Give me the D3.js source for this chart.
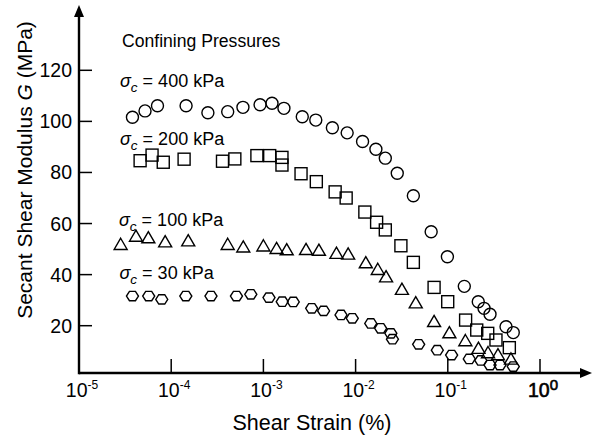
<!DOCTYPE html>
<html>
<head>
<meta charset="utf-8">
<script src="https://cdn.jsdelivr.net/npm/d3@7"></script>
<style>
  body { margin: 0; background: #fff; }
  svg { display: block; font-family: "Liberation Sans", Arial, sans-serif; }
</style>
</head>
<body>
<div id="chart"></div>
<script>
// DATA
// shear strain (%) and secant shear modulus G (MPa), per confining pressure
const strain400 = [3.8e-5, 5.2e-5, 7.1e-5, 1.45e-4, 2.5e-4, 4.1e-4, 6.0e-4, 9.2e-4, 1.24e-3, 1.67e-3, 2.64e-3, 3.7e-3, 5.6e-3, 8.1e-3, 1.19e-2, 1.66e-2, 2.1e-2, 2.83e-2, 4.23e-2, 6.6e-2, 0.099, 0.151, 0.214, 0.247, 0.287, 0.428, 0.513];
const g400 = [101.6, 104.1, 106.1, 106.1, 103.4, 103.8, 105.5, 106.5, 107.1, 105.1, 101.8, 100.5, 97.5, 95.5, 92.1, 89.1, 85.6, 79.7, 70.9, 56.8, 47.0, 35.4, 29.4, 26.8, 24.5, 19.6, 17.3];

const strain200 = [4.6e-5, 6.2e-5, 8.2e-5, 1.38e-4, 3.6e-4, 4.9e-4, 8.5e-4, 1.17e-3, 1.59e-3, 1.59e-3, 2.56e-3, 3.75e-3, 6.0e-3, 7.9e-3, 1.26e-2, 1.69e-2, 2.1e-2, 3.1e-2, 4.23e-2, 7.1e-2, 0.0998, 0.156, 0.206, 0.271, 0.333, 0.465];
const g200 = [84.6, 86.8, 84.0, 85.2, 84.4, 85.3, 86.6, 86.6, 85.9, 82.9, 79.5, 76.4, 72.4, 70.0, 64.5, 60.5, 57.5, 51.3, 44.8, 35.0, 29.4, 22.2, 18.3, 17.0, 14.4, 11.4];

const strain100 = [2.83e-5, 4.15e-5, 5.65e-5, 8.6e-5, 1.53e-4, 4.1e-4, 6.05e-4, 1.0e-3, 1.39e-3, 1.79e-3, 2.9e-3, 4.0e-3, 6.2e-3, 8.3e-3, 1.29e-2, 1.74e-2, 2.14e-2, 3.18e-2, 4.49e-2, 7.1e-2, 0.104, 0.155, 0.215, 0.273, 0.35, 0.484];
const g100 = [51.9, 55.1, 54.5, 52.9, 53.3, 51.9, 50.9, 51.3, 50.3, 49.8, 49.9, 49.6, 48.4, 48.1, 44.7, 42.1, 39.2, 34.3, 29.0, 21.7, 17.3, 14.2, 11.2, 9.5, 8.7, 7.0];

const strain30 = [3.8e-5, 5.7e-5, 7.9e-5, 1.44e-4, 2.7e-4, 5.1e-4, 7.3e-4, 1.15e-3, 1.6e-3, 2.11e-3, 3.34e-3, 4.5e-3, 6.95e-3, 9.2e-3, 1.46e-2, 1.87e-2, 2.41e-2, 2.51e-2, 4.83e-2, 7.7e-2, 0.110, 0.171, 0.228, 0.287, 0.368, 0.513];
const g30 = [31.6, 31.6, 30.3, 31.6, 31.6, 31.6, 32.3, 31.0, 29.4, 29.3, 26.8, 25.8, 24.2, 22.9, 20.9, 19.0, 17.0, 14.7, 12.7, 10.4, 8.5, 7.0, 6.4, 4.6, 4.6, 4.0];

// tick labels
const xTickExp = [-5, -4, -3, -2, -1, 0];
const yTicks = [20, 40, 60, 80, 100, 120];
const pressureLabels = ["400", "200", "100", "30"];

// CHART
const width = 592;
const height = 441;

const x = d3.scaleLog().domain([1e-5, 1]).range([79, 540]);
const y = d3.scaleLinear().domain([20, 120]).range([325.7, 70.3]);
const axisY = 373;

const svg = d3.select("#chart")
    .append("svg")
        .attr("width", width)
        .attr("height", height);

// axes lines
svg.append("line")
    .attr("x1", x(1e-5)).attr("x2", 585)
    .attr("y1", axisY).attr("y2", axisY)
    .attr("stroke", "#000").attr("stroke-width", 2.4);
svg.append("line")
    .attr("x1", x(1e-5)).attr("x2", x(1e-5))
    .attr("y1", axisY + 1.2).attr("y2", 14)
    .attr("stroke", "#000").attr("stroke-width", 2.4);

// arrow heads
svg.append("path")
    .attr("d", `M${x(1e-5)},5 L${x(1e-5) + 5},17 L${x(1e-5) - 5},17 Z`)
    .attr("fill", "#000");
svg.append("path")
    .attr("d", `M592,${axisY} L580,${axisY - 5} L580,${axisY + 5} Z`)
    .attr("fill", "#000");

// y ticks (inward)
svg.append("g")
    .selectAll("line")
    .data(yTicks)
    .join("line")
        .attr("x1", x(1e-5)).attr("x2", x(1e-5) + 13)
        .attr("y1", d => y(d)).attr("y2", d => y(d))
        .attr("stroke", "#000").attr("stroke-width", 1.5);

svg.append("g")
    .selectAll("text")
    .data(yTicks)
    .join("text")
        .attr("x", 72)
        .attr("y", d => y(d) + 7)
        .attr("text-anchor", "end")
        .attr("font-size", 19.5)
        .text(d => d);

// x ticks (inward, skip the origin)
svg.append("g")
    .selectAll("line")
    .data(xTickExp.filter(e => e > -5))
    .join("line")
        .attr("x1", e => x(Math.pow(10, e))).attr("x2", e => x(Math.pow(10, e)))
        .attr("y1", axisY).attr("y2", axisY - 14)
        .attr("stroke", "#000").attr("stroke-width", 1.5);

const xLabels = svg.append("g")
    .selectAll("text")
    .data(xTickExp)
    .join("text")
        .attr("x", e => x(Math.pow(10, e)) + 3)
        .attr("y", 397)
        .attr("text-anchor", "middle")
        .attr("font-size", 19.5)
        .attr("stroke", e => e === 0 ? "#000" : null)
        .attr("stroke-width", e => e === 0 ? 0.6 : null);
xLabels.append("tspan").text("10");
xLabels.append("tspan")
    .attr("dy", e => e === 0 ? -7 : -8)
    .attr("font-size", e => e === 0 ? 15 : 12)
    .text(e => e === 0 ? "0" : "-" + Math.abs(e));

// axis titles
svg.append("text")
    .attr("x", 312)
    .attr("y", 430)
    .attr("text-anchor", "middle")
    .attr("font-size", 21.5)
    .text("Shear Strain (%)");

const yTitle = svg.append("text")
    .attr("transform", "translate(32,170) rotate(-90)")
    .attr("text-anchor", "middle")
    .attr("font-size", 21);
yTitle.append("tspan").text("Secant Shear Modulus ");
yTitle.append("tspan").attr("font-style", "italic").text("G");
yTitle.append("tspan").text(" (MPa)");

// annotations
svg.append("text")
    .attr("x", 122)
    .attr("y", 47)
    .attr("font-size", 17.6)
    .text("Confining Pressures");

const labelPos = [[120, 87], [120, 145], [119, 226], [119.5, 279]];
labelPos.forEach(([lx, ly], i) => {
    const t = svg.append("text")
        .attr("x", lx)
        .attr("y", ly)
        .attr("font-size", 18);
    t.append("tspan").attr("font-style", "italic").text("σ");
    t.append("tspan").attr("font-style", "italic").attr("font-size", 13.5).attr("dy", 5).text("c");
    t.append("tspan").attr("dy", -5).text(" = " + pressureLabels[i] + " kPa");
});

// markers
const zip = (xs, ys) => xs.map((v, i) => [v, ys[i]]);
const mark = svg.append("g")
    .attr("fill", "none")
    .attr("stroke", "#000")
    .attr("stroke-width", 1.4);

mark.selectAll(".c400")
    .data(zip(strain400, g400))
    .join("circle")
        .attr("class", "c400")
        .attr("cx", d => x(d[0]))
        .attr("cy", d => y(d[1]))
        .attr("r", 6);

mark.selectAll(".s200")
    .data(zip(strain200, g200))
    .join("rect")
        .attr("class", "s200")
        .attr("x", d => x(d[0]) - 6)
        .attr("y", d => y(d[1]) - 6)
        .attr("width", 12)
        .attr("height", 12);

mark.selectAll(".t100")
    .data(zip(strain100, g100))
    .join("path")
        .attr("class", "t100")
        .attr("transform", d => `translate(${x(d[0])},${y(d[1])})`)
        .attr("d", "M0,-6L6.5,5.2L-6.5,5.2Z");

const hex = d3.range(6).map(k => {
    const a = k * Math.PI / 3;
    return [6 * Math.cos(a), 5.4 * Math.sin(a)];
});
mark.selectAll(".h30")
    .data(zip(strain30, g30))
    .join("path")
        .attr("class", "h30")
        .attr("transform", d => `translate(${x(d[0])},${y(d[1])})`)
        .attr("d", "M" + hex.join("L") + "Z");
</script>
</body>
</html>
